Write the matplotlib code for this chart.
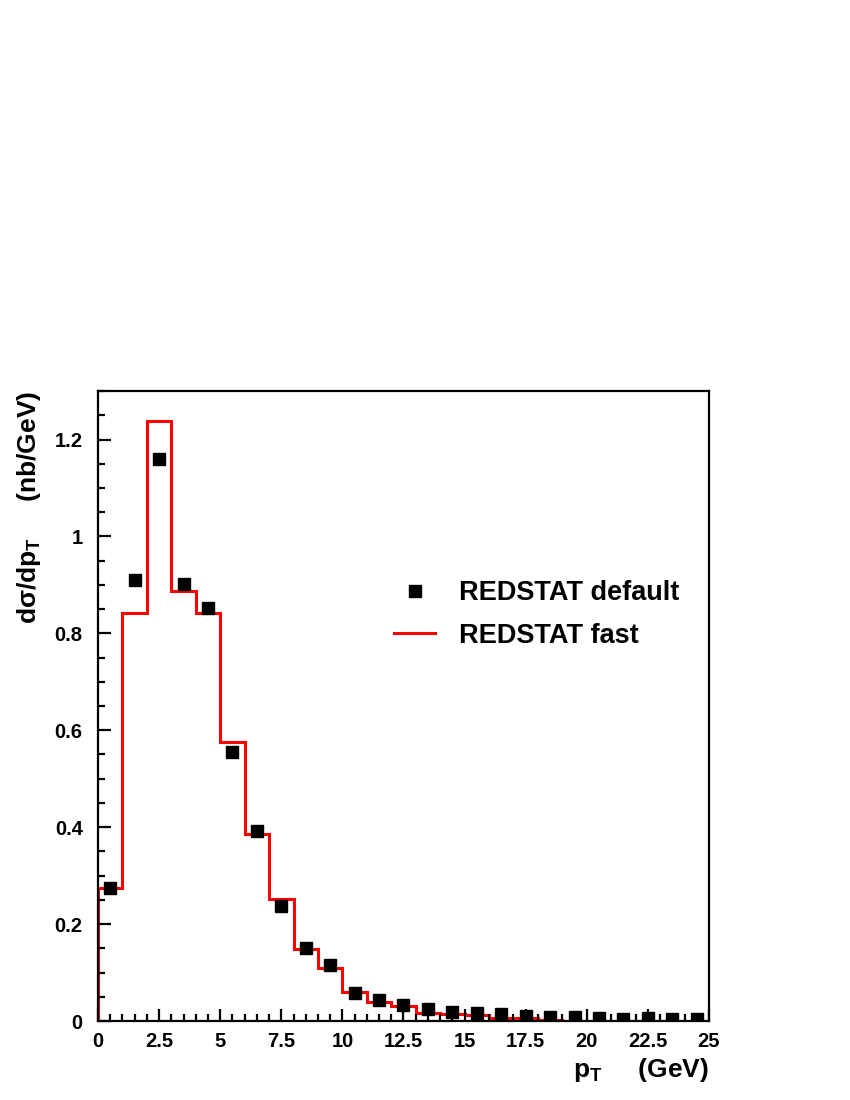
import numpy as np
import matplotlib
matplotlib.use('Agg')
import matplotlib.pyplot as plt
from matplotlib.ticker import MultipleLocator, FormatStrFormatter
from matplotlib.lines import Line2D

# bin edges (GeV) and values
edges = np.arange(0, 26, 1)
fast = [0.275, 0.841, 1.239, 0.887, 0.841, 0.575, 0.385, 0.252, 0.148, 0.110,
        0.060, 0.040, 0.030, 0.017, 0.015, 0.012, 0.007, 0.006, 0.003, 0.001,
        0.001, 0.001, 0.001, 0.001, 0.001]
centers = np.arange(0.5, 25, 1)
default = [0.275, 0.911, 1.159, 0.902, 0.853, 0.555, 0.392, 0.238, 0.151, 0.115,
           0.057, 0.043, 0.033, 0.024, 0.019, 0.016, 0.014, 0.010, 0.009, 0.008,
           0.007, 0.005, 0.007, 0.005, 0.005]
err_lo = [0, 0, 0, 0, 0, 0, 0, 0, 0, 0,
          0, 0, 0.028, 0.008, 0, 0, 0, 0, 0, 0,
          0, 0, 0, 0, 0]
err_hi = [0, 0, 0, 0, 0, 0, 0, 0, 0, 0,
          0, 0, 0, 0, 0, 0, 0, 0.008, 0, 0,
          0, 0, 0.009, 0, 0]

plt.rcParams['font.family'] = ['Liberation Sans', 'DejaVu Sans']
plt.rcParams['font.weight'] = 'bold'
plt.rcParams['mathtext.fontset'] = 'custom'
plt.rcParams['mathtext.rm'] = 'Liberation Sans:bold'
plt.rcParams['mathtext.it'] = 'Liberation Sans:bold'
plt.rcParams['mathtext.bf'] = 'Liberation Sans:bold'

fig = plt.figure(figsize=(8.5, 11), dpi=100)
ax = fig.add_axes([0.1153, 0.0718, 0.7188, 0.5727])

ax.stairs(fast, edges, baseline=0, color='red', lw=2.2)
ax.errorbar(centers, default, yerr=[err_lo, err_hi], fmt='s', color='black',
            ms=8, elinewidth=1.5, capsize=0)

ax.set_xlim(0, 25)
ax.set_ylim(0, 1.3)
ax.xaxis.set_major_locator(MultipleLocator(2.5))
ax.xaxis.set_minor_locator(MultipleLocator(0.5))
ax.yaxis.set_major_locator(MultipleLocator(0.2))
ax.yaxis.set_minor_locator(MultipleLocator(0.05))
ax.xaxis.set_major_formatter(FormatStrFormatter('%g'))
ax.yaxis.set_major_formatter(FormatStrFormatter('%g'))
ax.tick_params(which='both', direction='in', top=False, right=False, width=1.6,
               labelsize=14.5)
ax.tick_params(which='major', length=9)
ax.tick_params(axis='x', which='major', pad=8)
ax.tick_params(axis='y', which='major', pad=11)
ax.tick_params(which='minor', length=5)
for s in ax.spines.values():
    s.set_linewidth(1.6)

ax.set_xlabel(r'p$_\mathregular{T}$     (GeV)', fontsize=19, fontweight='bold', loc='right')
ax.set_ylabel(r'd$\sigma$/dp$_\mathregular{T}$     (nb/GeV)', fontsize=19, fontweight='bold', loc='top')
ax.xaxis.set_label_coords(1.0, -0.055)
ax.yaxis.set_label_coords(-0.09, 1.0)

h_def = Line2D([], [], ls='none', marker='s', color='black', ms=8)
h_fast = Line2D([], [], color='red', lw=2.2)
ax.legend([h_def, h_fast], ['REDSTAT default', 'REDSTAT fast'], loc='upper left',
          bbox_to_anchor=(0.445, 0.738), frameon=False, fontsize=19.5,
          handlelength=1.5, handletextpad=0.9, labelspacing=0.6)

fig.savefig('out.png', dpi=100)
